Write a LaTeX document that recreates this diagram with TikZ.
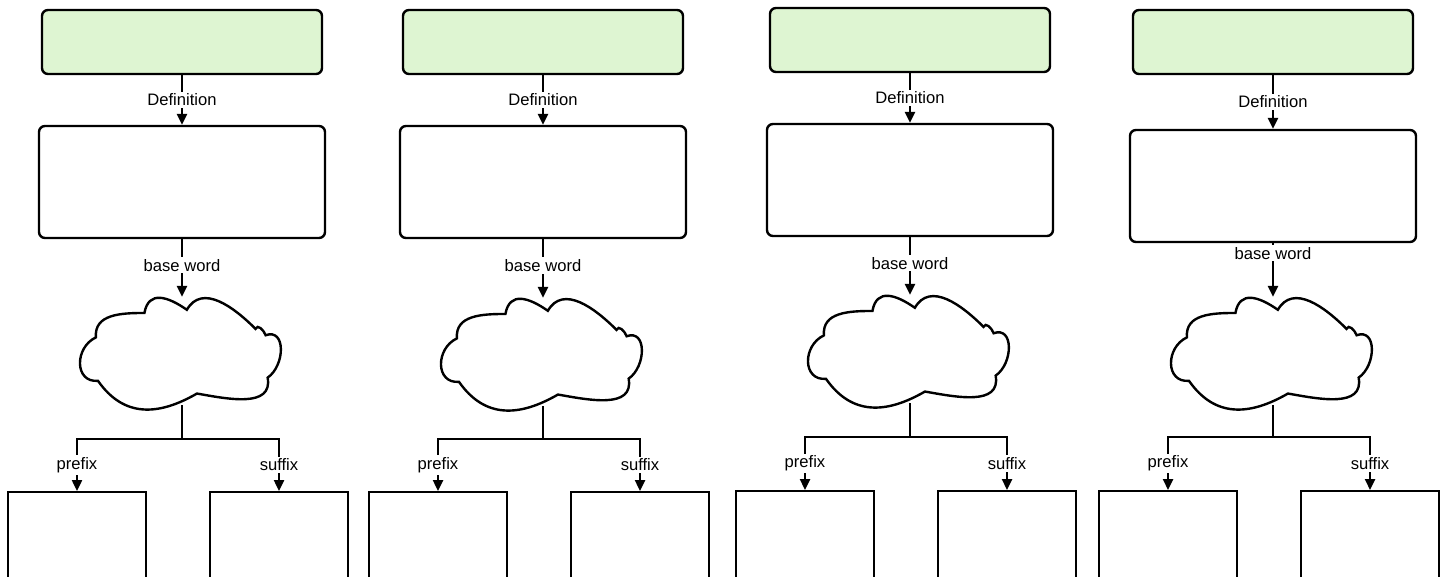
\documentclass[tikz,border=0pt]{standalone}
\usepackage{fontspec}
\setmainfont{Liberation Sans}
\usetikzlibrary{arrows.meta}
\definecolor{defgreen}{RGB}{222,245,210}

\begin{document}
\begin{tikzpicture}[x=0.5pt, y=-0.5pt, line width=1.2pt,
  defbox/.style = {draw, rounded corners=3pt, fill=defgreen, minimum width=140pt, minimum height=32pt},
  wordbox/.style = {draw, rounded corners=3pt, fill=white, minimum width=143pt, minimum height=56pt},
  cloudbox/.style = {minimum width=101pt, minimum height=53pt, inner sep=0pt},
  partbox/.style = {draw, anchor=north, minimum width=69pt, minimum height=80pt},
  lbl/.style = {fill=white, inner sep=1pt, font=\fontsize{8.3}{10}\selectfont},
  link/.style = {-{Triangle[width=5pt,length=5.5pt]}}]
  \useasboundingbox (0,0) rectangle (1452,577);
  \clip (0,0) rectangle (1452,577);

  % one column per word
  \foreach \i/\cx/\gy/\wy/\cy/\ty/\by/\bp in {1/182/42/182/351/439/491/0.45, 2/543/42/182/352/439/491/0.45, 3/910/40/180/349/437/490/0.45, 4/1273/42/186/351/437/490/0.19}
  {
    \node[defbox] (g\i) at (\cx,\gy) {};
    \node[wordbox] (w\i) at (\cx,\wy) {};
    \node[cloudbox] (c\i) at (\cx,\cy) {};
    \coordinate (j\i) at (\cx,\ty);
    \node[partbox] (p\i) at (\cx-105,\by) {};
    \node[partbox] (s\i) at (\cx+97,\by) {};

    \draw[shift={(c\i.south west)}, x=101pt, y=53pt]
      (0.08,0.64) to[out=95,in=180,looseness=1.1] (0.32,0.87)
      to[out=80,in=145,looseness=1.4] (0.53,0.90)
      to[out=60,in=135,looseness=1.1] (0.87,0.72)
      to[out=70,in=110,looseness=1.2] (0.92,0.66)
      to[out=20,in=35,looseness=1.3] (0.93,0.26)
      to[out=-80,in=-10,looseness=1.1] (0.58,0.11)
      to[out=-150,in=-55,looseness=1.15] (0.09,0.23)
      to[out=185,in=-155,looseness=1.4] (0.08,0.64) -- cycle;

    \draw[link] (g\i) -- node[lbl] {Definition} (w\i);
    \draw[link] (w\i) -- node[lbl, pos=\bp] {base word} (c\i);
    \draw[link] (c\i) -- (j\i) -| node[lbl, pos=0.75] {prefix} (p\i);
    \draw[link] (c\i) -- (j\i) -| node[lbl, pos=0.75] {suffix} (s\i);
  }
\end{tikzpicture}
\end{document}
